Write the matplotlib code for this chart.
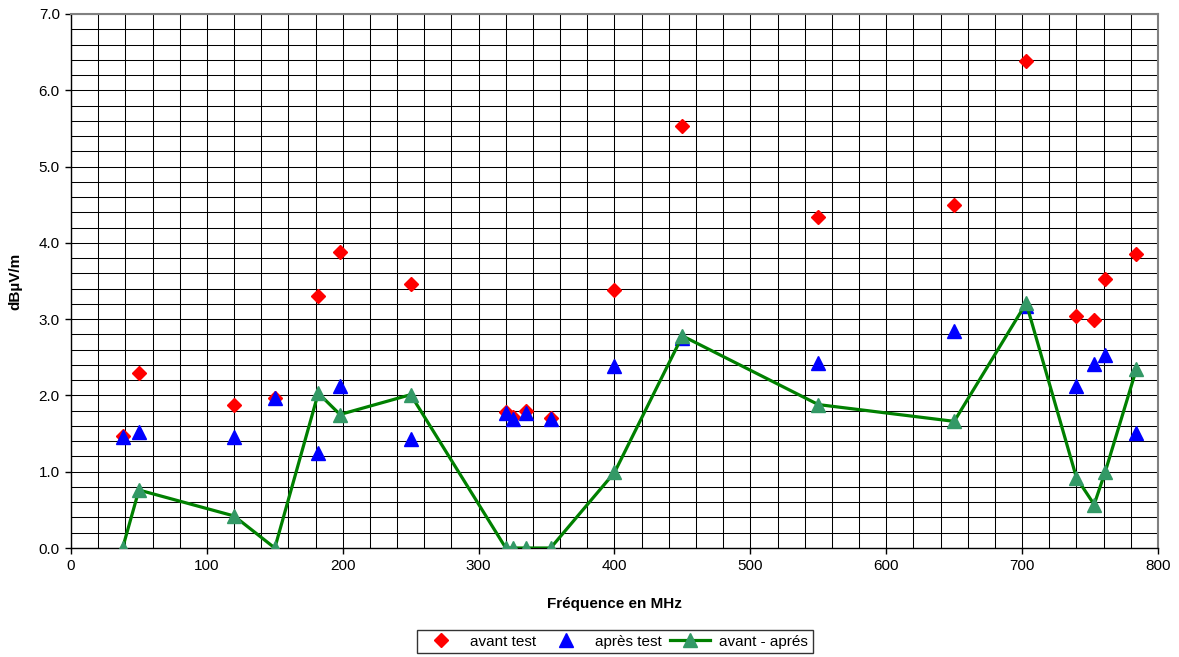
import matplotlib
matplotlib.use("Agg")
import matplotlib.pyplot as plt
from matplotlib.ticker import MultipleLocator, FormatStrFormatter

plt.rcParams['font.family'] = ['Liberation Sans', 'DejaVu Sans']

freq = [38, 50, 120, 150, 182, 198, 250, 320, 325, 335, 353, 400, 450, 550, 650, 703, 740, 753, 761, 784]
avant = [1.47, 2.29, 1.87, 1.97, 3.30, 3.88, 3.46, 1.78, 1.72, 1.80, 1.71, 3.38, 5.53, 4.34, 4.50, 6.38, 3.04, 2.99, 3.53, 3.86]
apres = [1.45, 1.52, 1.45, 1.97, 1.25, 2.13, 1.43, 1.77, 1.69, 1.77, 1.69, 2.38, 2.75, 2.43, 2.84, 3.17, 2.12, 2.41, 2.53, 1.51]
diff = [0.0, 0.76, 0.42, 0.0, 2.03, 1.75, 2.01, 0.0, 0.0, 0.0, 0.0, 0.99, 2.78, 1.88, 1.66, 3.21, 0.92, 0.57, 0.99, 2.34]

fig = plt.figure(figsize=(11.79, 6.57), dpi=100)
ax = fig.add_axes([0.0602, 0.1659, 0.922, 0.8128])

ax.plot(freq, avant, linestyle='none', marker='D', markersize=7, color='#FF0000',
        markeredgecolor='#FF0000', label='avant test', zorder=3)
ax.plot(freq, apres, linestyle='none', marker='^', markersize=9.5, color='#0000FF',
        markeredgecolor='#0000FF', label='après test', zorder=4)
ax.plot(freq, diff, linestyle='-', linewidth=2.3, color='#008000', marker='^', markersize=9.5,
        markerfacecolor='#339966', markeredgecolor='#339966', label='avant - aprés', zorder=5)

ax.set_xlim(0, 800)
ax.set_ylim(0, 7)
ax.xaxis.set_major_locator(MultipleLocator(100))
ax.xaxis.set_minor_locator(MultipleLocator(20))
ax.yaxis.set_major_locator(MultipleLocator(1))
ax.yaxis.set_minor_locator(MultipleLocator(0.2))
ax.yaxis.set_major_formatter(FormatStrFormatter('%.1f'))

ax.grid(which='both', color='black', linewidth=0.75)
ax.set_axisbelow(True)
ax.tick_params(which='major', direction='out', length=4, width=1, labelsize=11, colors='black', pad=4)
ax.tick_params(which='minor', length=0)
for s in ['top', 'right']:
    ax.spines[s].set_color('#808080')
    ax.spines[s].set_linewidth(1.5)
for s in ['left', 'bottom']:
    ax.spines[s].set_color('black')
    ax.spines[s].set_linewidth(1.0)

ax.set_xlabel('Fréquence en MHz', fontsize=11, fontweight='bold', labelpad=17)
ax.set_ylabel('dBµV/m', fontsize=11, fontweight='bold', labelpad=12)

leg = fig.legend(loc='center', bbox_to_anchor=(0.5215, 0.0235), ncol=3, fontsize=11,
                 frameon=True, fancybox=False, edgecolor='black', handlelength=2.6,
                 columnspacing=0.6, handletextpad=0.6, borderpad=0.3, borderaxespad=0)
leg.get_frame().set_linewidth(1.0)

fig.savefig('out.png', dpi=100)
